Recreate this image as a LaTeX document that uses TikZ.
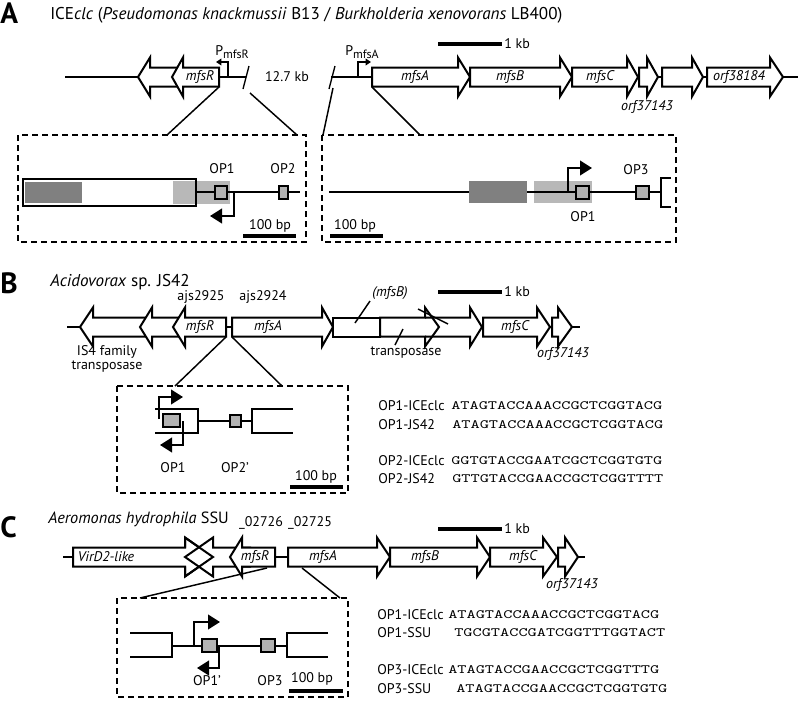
\documentclass[tikz,border=0pt]{standalone}
\usepackage{fontspec}
\usepackage{graphicx}
\setmainfont{PT Sans}
\usetikzlibrary{arrows.meta}
\definecolor{darkg}{gray}{0.5}
\definecolor{lightg}{gray}{0.72}
\definecolor{opg}{gray}{0.7}
\newcommand\genearrow[4]{%
  \draw[gene] (#2,#1-9.5) -- (#3,#1-9.5) -- (#3,#1-19.5) -- (#4,#1) -- (#3,#1+19.5) -- (#3,#1+9.5) -- (#2,#1+9.5) -- cycle;}
\newcommand\seqtxt[1]{\scalebox{1.38}[1]{\ttfamily\fontsize{9.5}{11}\selectfont #1}}
\begin{document}
\begin{tikzpicture}[x=0.75pt,y=-0.75pt,
  gene/.style={draw, fill=white, line width=1.5pt, line join=miter},
  bb/.style={line width=1pt},
  ln/.style={line width=1.1pt},
  inset/.style={line width=1.1pt, dash pattern=on 4.5pt off 3pt},
  op/.style={draw, fill=opg, line width=1.1pt},
  prom/.style={line width=1.5pt, -{Triangle[length=9pt,width=11pt]}},
  sprom/.style={line width=1pt, -{Triangle[length=4pt,width=5pt]}},
  sbar/.style={line width=2.3pt},
  lbl/.style={font=\fontsize{10.5}{12}\selectfont, inner sep=0pt},
  glbl/.style={font=\fontsize{10.5}{12}\selectfont\itshape, inner sep=0pt},
  panel/.style={font=\fontsize{22}{22}\selectfont\bfseries, inner sep=0pt, anchor=base west},
  ttl/.style={font=\fontsize{12.8}{15}\selectfont, inner sep=0pt, anchor=base west},
  seqlbl/.style={font=\fontsize{10.5}{12}\selectfont, inner sep=0pt, anchor=west},
  seq/.style={inner sep=0pt, anchor=west}]
\useasboundingbox (0,0) rectangle (800,707);

%% ================= Panel A =================
\node[panel] (pA) at (0,23) {A};
\node[ttl] (tA) at (50,19) {ICE\textit{clc} (\textit{Pseudomonas knackmussii} B13 / \textit{Burkholderia xenovorans} LB400)};
\draw[bb] (65,77) -- (246,77);
\draw[bb] (331,77) -- (798,77);
\genearrow{77}{180}{150}{138}
\genearrow{77}{219}{183}{172}
\genearrow{77}{372}{458}{470}
\genearrow{77}{470}{560}{572}
\genearrow{77}{572}{627}{638}
\genearrow{77}{639}{647}{658}
\genearrow{77}{662}{692}{703}
\genearrow{77}{707}{770}{783}
\node[glbl] (gmfsR) at (200,77) {mfsR};
\node[glbl] (gmfsA) at (415,77) {mfsA};
\node[glbl] (gmfsB) at (510,77) {mfsB};
\node[glbl] (gmfsC) at (600,77) {mfsC};
\node[glbl] (gorf38) at (739,77) {orf38184};
\node[glbl] (gorf37) at (647,107) {orf37143};
\draw[bb] (243,89) -- (249,66);
\draw[bb] (329,89) -- (335,66);
\node[lbl] (kb127) at (287,77) {12.7 kb};
\draw[sprom] (228,77) -- (228,62) -- (216,62);
\draw[sprom] (358,77) -- (358,62) -- (371,62);
\node[lbl, anchor=base west] (pmfsR) at (215,55) {P\raisebox{-2.5pt}{\fontsize{9}{10}\selectfont mfsR}};
\node[lbl, anchor=base west] (pmfsA) at (345,55) {P\raisebox{-2.5pt}{\fontsize{9}{10}\selectfont mfsA}};
\draw[sbar] (438,44) -- (502,44);
\node[lbl, anchor=west] (kbA) at (504,44) {1 kb};
% expansion lines
\coordinate (eA1) at (219,87); \coordinate (eA2) at (250,93);
\coordinate (eA3) at (333,88); \coordinate (eA4) at (372,87);
\coordinate (bA1) at (167,135); \coordinate (bA2) at (297,135);
\coordinate (bA3) at (323,135); \coordinate (bA4) at (420,135);
\draw[ln] (eA1) -- (bA1); \draw[ln] (eA2) -- (bA2);
\draw[ln] (eA3) -- (bA3); \draw[ln] (eA4) -- (bA4);
% inset A1
\draw[inset] (18,135) rectangle (306,242);
\fill[white] (23,179) rectangle (196,206);
\fill[darkg] (25,182) rectangle (82,203);
\fill[lightg] (173,181) rectangle (230,204);
\draw[ln] (23,179) rectangle (196,206);
\draw[ln] (196,192) -- (300,192);
\draw[op] (215,186) rectangle (227,199);
\draw[op] (279,186) rectangle (288,199);
\draw[prom] (234,192) -- (234,216) -- (210,216);
\node[lbl] (op1a) at (222,169) {OP1};
\node[lbl] (op2a) at (283,169) {OP2};
\draw[sbar] (243,236) -- (296,236);
\node[lbl] (bpA1) at (270,226) {100 bp};
% inset A2
\draw[inset] (322,135) rectangle (676,242);
\draw[ln] (329,192) -- (662,192);
\fill[darkg] (469,181) rectangle (527,203);
\fill[lightg] (534,181) rectangle (592,203);
\draw[ln] (534,192) -- (662,192);
\draw[op] (576,186) rectangle (589,199);
\draw[op] (636,186) rectangle (649,199);
\draw[prom] (568,192) -- (568,168) -- (592,168);
\draw[ln] (671,178) -- (661,178) -- (661,207) -- (671,207);
\node[lbl] (op3a) at (636,170) {OP3};
\node[lbl] (op1a2) at (583,217) {OP1};
\draw[sbar] (330,236) -- (383,236);
\node[lbl] (bpA2) at (355,226) {100 bp};

%% ================= Panel B =================
\node[panel] (pB) at (0,293) {B};
\node[ttl] (tB) at (50,286) {\textit{Acidovorax} sp. JS42};
\draw[bb] (67,327) -- (580,327);
\genearrow{327}{150}{93}{80}
\genearrow{327}{182}{152}{140}
\genearrow{327}{226}{185}{173}
\genearrow{327}{232}{322}{333}
\draw[gene] (333,317.5) rectangle (380,336.5);
\fill[white] (425,317.5) -- (470,317.5) -- (470,307.5) -- (482,327) -- (470,346.5) -- (470,336.5) -- (425,336.5) -- cycle;
\genearrow{327}{380}{425}{439}
\draw[gene, fill=none] (425,317.5) -- (470,317.5) -- (470,307.5) -- (482,327) -- (470,346.5) -- (470,336.5) -- (425,336.5);
\genearrow{327}{483}{537}{550}
\genearrow{327}{552}{558}{572}
\node[glbl] (gmfsRb) at (200,327) {mfsR};
\node[glbl] (gmfsAb) at (268,327) {mfsA};
\node[glbl] (gmfsCb) at (515,327) {mfsC};
\node[glbl] (gorfb) at (563,354) {orf37143};
\node[lbl] (ajs25) at (201,297) {ajs2925};
\node[lbl] (ajs24) at (263,297) {ajs2924};
\node[glbl] (mfsBb) at (390,293) {(mfsB)};
\draw[ln] (370,301) -- (355,323);
\draw[ln] (418,309) -- (448,324);
\node[lbl, align=center] (is4) at (107,359) {IS4 family\\[-1pt]transposase};
\node[lbl] (tnp) at (406,353) {transposase};
\draw[ln] (395,345) -- (403,329);
\draw[sbar] (438,292) -- (502,292);
\node[lbl, anchor=west] (kbB) at (504,292) {1 kb};
\coordinate (eB1) at (226,337); \coordinate (eB2) at (232,337);
\coordinate (bB1) at (175,386); \coordinate (bB2) at (282,386);
\draw[ln] (eB1) -- (bB1); \draw[ln] (eB2) -- (bB2);
% inset B
\draw[inset] (117,386) rectangle (348,493);
\draw[ln] (155,409) -- (198,409) -- (198,433) -- (155,433);
\draw[ln] (198,421) -- (252,421);
\draw[ln] (293,409) -- (252,409) -- (252,433) -- (293,433);
\draw[op] (163,414) rectangle (180,427);
\draw[op] (230,415) rectangle (241,427);
\draw[prom] (159,419) -- (159,397) -- (183,397);
\draw[prom] (183,421) -- (183,445) -- (160,445);
\node[lbl] (op1b) at (173,468) {OP1};
\node[lbl] (op2b) at (235,468) {OP2’};
\draw[sbar] (290,487) -- (343,487);
\node[lbl] (bpB) at (316,477) {100 bp};
% sequences B
\node[seqlbl] (sb1) at (378,406) {OP1-ICEclc};
\node[seq] (qb1) at (451,406) {\seqtxt{ATAGTACCAAACCGCTCGGTACG}};
\node[seqlbl] (sb2) at (378,425) {OP1-JS42};
\node[seq] (qb2) at (452,425) {\seqtxt{ATAGTACCAAACCGCTCGGTACG}};
\node[seqlbl] (sb3) at (378,461) {OP2-ICEclc};
\node[seq] (qb3) at (451,461) {\seqtxt{GGTGTACCGAATCGCTCGGTGTG}};
\node[seqlbl] (sb4) at (378,479) {OP2-JS42};
\node[seq] (qb4) at (452,479) {\seqtxt{GTTGTACCGAACCGCTCGGTTTT}};

%% ================= Panel C =================
\node[panel] (pC) at (0,537) {C};
\node[ttl, font=\fontsize{12.2}{14}\selectfont] (tC) at (48,523) {\textit{Aeromonas hydrophila} SSU};
\node[lbl] (n26) at (261,523) {\_02726};
\node[lbl] (n25) at (310,523) {\_02725};
\draw[bb] (63,557) -- (585,557);
\genearrow{557}{73}{185}{213}
\genearrow{557}{250}{213}{185}
\draw[gene, fill=none] (185,547.5) -- (185,537.5) -- (213,557) -- (185,576.5) -- (185,566.5);
\genearrow{557}{275}{242}{230}
\genearrow{557}{288}{377}{390}
\genearrow{557}{390}{477}{490}
\genearrow{557}{490}{543}{557}
\genearrow{557}{558}{565}{578}
\node[glbl] (gvir) at (106,557) {VirD2-like};
\node[glbl] (gmfsRc) at (255,557) {mfsR};
\node[glbl] (gmfsAc) at (323,557) {mfsA};
\node[glbl] (gmfsBc) at (425,557) {mfsB};
\node[glbl] (gmfsCc) at (523,557) {mfsC};
\node[glbl] (gorfc) at (572,585) {orf37143};
\draw[sbar] (438,529) -- (502,529);
\node[lbl, anchor=west] (kbC) at (504,529) {1 kb};
\coordinate (eC1) at (267,568); \coordinate (eC2) at (302,568);
\coordinate (bC1) at (140,598); \coordinate (bC2) at (340,598);
\draw[ln] (eC1) -- (bC1); \draw[ln] (eC2) -- (bC2);
% inset C
\draw[inset] (117,598) rectangle (348,697);
\draw[ln] (130,633) -- (172,633) -- (172,657) -- (130,657);
\draw[ln] (172,646) -- (287,646);
\draw[ln] (328,633) -- (287,633) -- (287,657) -- (328,657);
\draw[op] (202,639) rectangle (217,652);
\draw[op] (261,639) rectangle (275,652);
\draw[prom] (194,646) -- (194,622) -- (220,622);
\draw[prom] (219,646) -- (219,668) -- (197,668);
\node[lbl] (op1c) at (207,681) {OP1’};
\node[lbl] (op3c) at (270,681) {OP3};
\draw[sbar] (289,691) -- (343,691);
\node[lbl] (bpC) at (312,679) {100 bp};
% sequences C
\node[seqlbl] (sc1) at (377,615) {OP1-ICEclc};
\node[seq] (qc1) at (448,615) {\seqtxt{ATAGTACCAAACCGCTCGGTACG}};
\node[seqlbl] (sc2) at (377,633) {OP1-SSU};
\node[seq] (qc2) at (454,633) {\seqtxt{TGCGTACCGATCGGTTTGGTACT}};
\node[seqlbl] (sc3) at (377,670) {OP3-ICEclc};
\node[seq] (qc3) at (448,670) {\seqtxt{ATAGTACCGAACCGCTCGGTTTG}};
\node[seqlbl] (sc4) at (377,689) {OP3-SSU};
\node[seq] (qc4) at (456,689) {\seqtxt{ATAGTACCGAACCGCTCGGTGTG}};
\end{tikzpicture}
\end{document}
